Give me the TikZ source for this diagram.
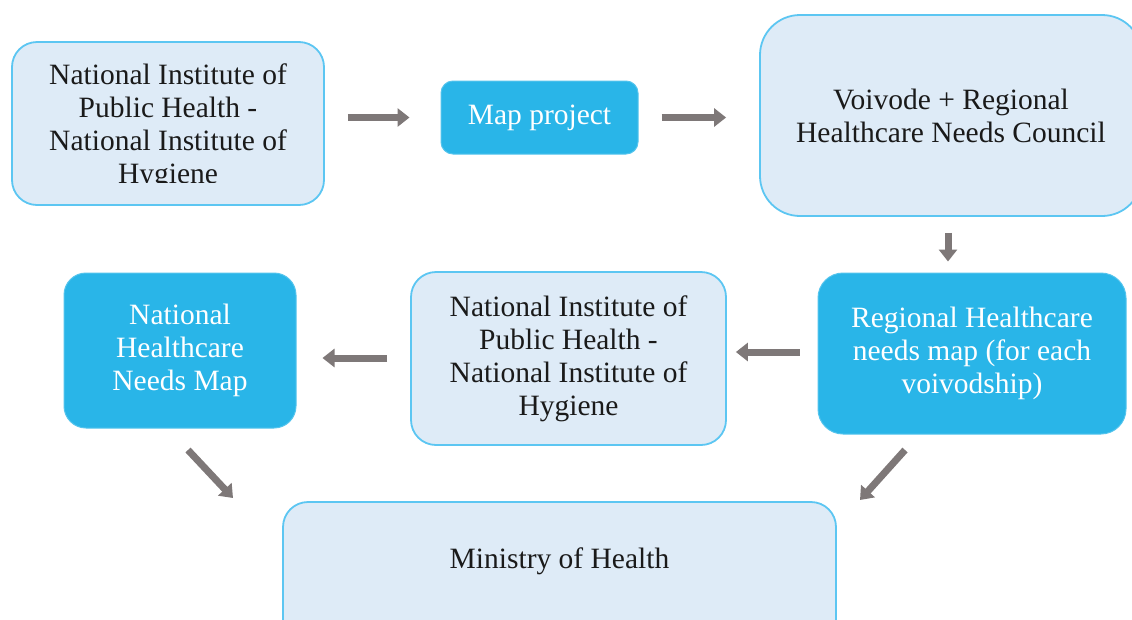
\documentclass[tikz,border=0pt]{standalone}
\usepackage{fontspec}
\setmainfont{Liberation Serif}
\usetikzlibrary{arrows.meta,calc}
\definecolor{lightfill}{HTML}{DEEBF7}
\definecolor{edgeblue}{HTML}{5CC6F2}
\definecolor{cyanfill}{HTML}{29B5E8}
\definecolor{arrowgray}{HTML}{7E7878}
\definecolor{darktext}{HTML}{1A1A1A}
\tikzset{
  lightbox/.style={draw=edgeblue, line width=1.8pt, fill=lightfill, text=darktext,
    align=center, inner sep=0pt, font=\fontsize{29.5}{33}\selectfont},
  cyanbox/.style={draw=cyanfill!80!white, line width=1pt, fill=cyanfill, text=white,
    align=center, inner sep=0pt, font=\fontsize{29.5}{33}\selectfont},
  blockarrow/.style={draw=arrowgray, line width=7pt,
    -{Triangle[width=18pt,length=12pt]}},
}
\begin{document}
\begin{tikzpicture}[x=1pt,y=-1pt]
\clip (0,0) rectangle (1132,619);
\fill[white] (0,0) rectangle (1132,619);
% boxes
\node[lightbox, minimum width=312pt, minimum height=163pt, rounded corners=25pt] (box1) at (168,123.5) {};
\begin{scope}
\clip (12,42) rectangle (324,182);
\node[lightbox, draw=none, fill=none] (box1text) at (168,127) {National Institute of\\Public Health -\\National Institute of\\Hygiene};
\end{scope}
\node[cyanbox, minimum width=197pt, minimum height=73pt, rounded corners=12pt] (box2) at (539.5,117.5) {Map project};
\node[lightbox, minimum width=382pt, minimum height=201pt, rounded corners=40pt] (box3) at (951,115.5) {Voivode + Regional\\Healthcare Needs Council};
\node[cyanbox, minimum width=308pt, minimum height=161pt, rounded corners=25pt] (box4) at (972,353.5) {Regional Healthcare\\needs map (for each\\voivodship)};
\node[lightbox, minimum width=315pt, minimum height=173pt, rounded corners=25pt] (box5) at (568.5,358.5) {National Institute of\\Public Health -\\National Institute of\\Hygiene};
\node[cyanbox, minimum width=232pt, minimum height=155pt, rounded corners=22pt] (box6) at (180,350.5) {National\\Healthcare\\Needs Map};
\node[lightbox, minimum width=553pt, minimum height=150pt, rounded corners=25pt] (box7) at (559.5,577) {};
\node[lightbox, draw=none, fill=none] (box7text) at (559.5,561) {Ministry of Health};
% arrows
\coordinate (c3) at (948,0);
\coordinate (c4) at (0,352);
\coordinate (c5) at (0,358);
\draw[blockarrow, shorten <=23pt, shorten >=31pt] (box1.east |- box2.west) -- (box2.west);
\draw[blockarrow, shorten <=23pt, shorten >=33pt] (box2.east) -- (box2.east -| box3.west);
\draw[blockarrow, shorten <=16pt, shorten >=11pt] (box3.south -| c3) -- (box4.north -| c3);
\draw[blockarrow, shorten <=18pt, shorten >=9pt] (box4.west |- c4) -- (box5.east |- c4);
\draw[blockarrow, shorten <=23pt, shorten >=26pt] (box5.west |- c5) -- (box6.east |- c5);
\coordinate (a6s) at (188,450);
\coordinate (a6e) at (233,498);
\coordinate (a7s) at (905,450);
\coordinate (a7e) at (860,500);
\draw[blockarrow] (a6s) -- (a6e);
\draw[blockarrow] (a7s) -- (a7e);
\end{tikzpicture}
\end{document}
